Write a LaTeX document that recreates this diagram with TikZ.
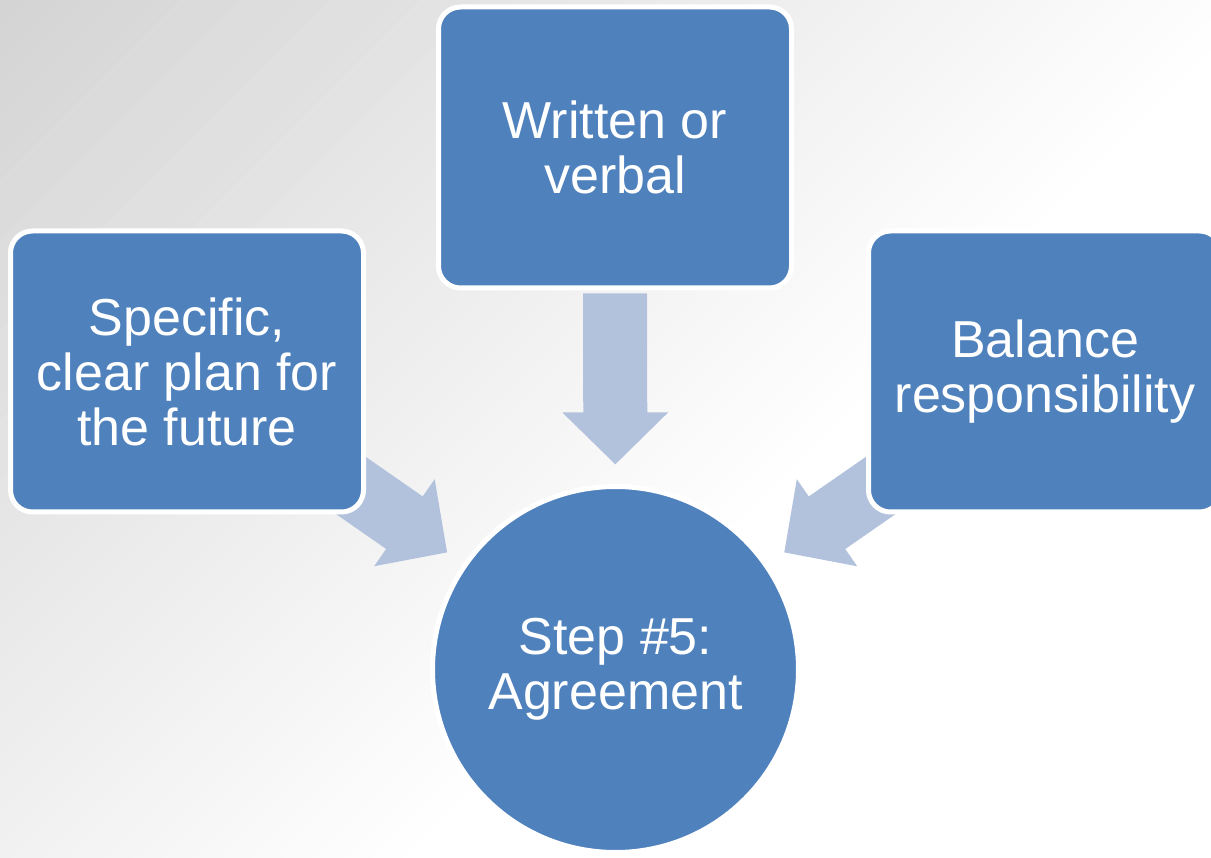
\documentclass[tikz,border=0pt]{standalone}
\usepackage{fontspec}
\setmainfont{Liberation Sans}
\usepackage{xcolor}
\usepackage{tikz}
\usetikzlibrary{calc}
\usetikzlibrary{backgrounds}
\definecolor{boxblue}{HTML}{4F81BD}
\definecolor{arrowblue}{HTML}{B2C2DC}
\definecolor{bggray}{HTML}{D4D4D4}
\tikzset{
    textnode/.style = {align=center, inner sep=0pt, text centered, white, font=\fontsize{52}{55}\selectfont},
    step_box/.style = {textnode, rectangle, rounded corners=22pt, draw=white, fill=boxblue, line width=5pt, minimum width=353pt, minimum height=281pt},
    step_circle/.style = {textnode, circle, draw=white, fill=boxblue, line width=5pt, minimum size=366pt},
    block_arrow/.style = {fill=arrowblue, draw=none}
}
\newcommand{\blockarrow}[2]{
    \coordinate (tip) at ($(#1)!0.607!(#2)$);
    \coordinate (neck) at ($(tip)!52pt!(#1)$);
    \coordinate (tail) at ($(tip)!171pt!(#1)$);
    \fill [block_arrow] (tip) -- ($(neck)!53pt!90:(tip)$) -- ($(neck)!32pt!90:(tip)$)
        -- ($(tail)!32pt!90:(tip)$) -- ($(tail)!32pt!-90:(tip)$)
        -- ($(neck)!32pt!-90:(tip)$) -- ($(neck)!53pt!-90:(tip)$) -- cycle;
}

\begin{document}
\begin{tikzpicture}[x=1pt, y=-1pt]
    \useasboundingbox (0,0) rectangle (1211,858);

    \node [step_circle] (agree) at (615.5,669.5) {Step \#5:\\Agreement};
    \node [step_box] (written) at (615,147.5) {Written or\\verbal};
    \node [step_box] (specific) at (187,371.5) {Specific,\\clear plan for\\the future};
    \node [step_box] (balance) at (1045,371.5) {Balance\\responsibility};

    \begin{pgfonlayer}{background}
        \fill [white] (0,0) rectangle (1211,858);
        \foreach \k in {0,...,42} {
            \pgfmathtruncatemacro{\shadeval}{100-\k*100/42}
            \fill [bggray!\shadeval!white] (\k*30,0) -- (\k*30+32,0) -- (\k*30+32-858,858) -- (\k*30-858,858) -- cycle;
        }
        \blockarrow{specific}{agree}
        \blockarrow{written}{agree}
        \blockarrow{balance}{agree}
    \end{pgfonlayer}
\end{tikzpicture}
\end{document}
